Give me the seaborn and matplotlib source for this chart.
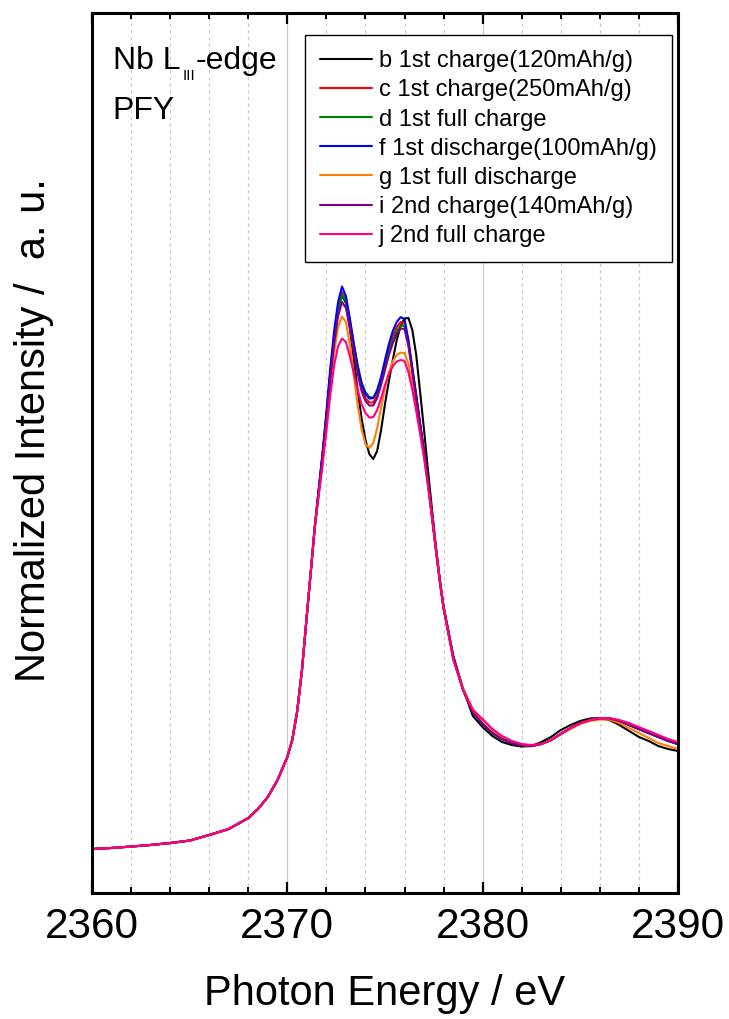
import pandas as pd
import numpy as np
import seaborn as sns
import matplotlib.pyplot as plt
from matplotlib.ticker import MultipleLocator

# Nb L3-edge PFY spectra
energy_pre = [2360, 2361, 2362, 2363, 2364, 2365, 2366, 2367, 2368, 2368.5, 2369,
              2369.5, 2370, 2370.25, 2370.5, 2370.75, 2371, 2371.2, 2371.4]
edge_pre = [0.000, 0.008, 0.019, 0.031, 0.046, 0.065, 0.108, 0.154, 0.238, 0.308, 0.400,
            0.531, 0.708, 0.838, 1.054, 1.377, 1.800, 2.131, 2.469]

energy_peak = [2371.6, 2371.8, 2372.0, 2372.2, 2372.4, 2372.6, 2372.8, 2373.0, 2373.2,
               2373.4, 2373.6, 2373.8, 2374.0, 2374.2, 2374.4, 2374.6, 2374.8, 2375.0,
               2375.2, 2375.4, 2375.6, 2375.8, 2376.0, 2376.2, 2376.4, 2376.6, 2376.8,
               2377.0, 2377.2, 2377.4, 2377.6, 2377.8, 2378.0]

peak_b = [2.746, 3.023, 3.323, 3.646, 3.938, 4.154, 4.258, 4.200, 4.008, 3.777, 3.531,
          3.315, 3.146, 3.038, 3.000, 3.062, 3.223, 3.423, 3.600, 3.762, 3.915, 4.023,
          4.081, 4.085, 3.992, 3.800, 3.515, 3.223, 2.915, 2.623, 2.338, 2.085, 1.869]
peak_c = [2.746, 3.023, 3.331, 3.662, 3.946, 4.162, 4.285, 4.223, 4.054, 3.862, 3.685,
          3.546, 3.469, 3.435, 3.435, 3.492, 3.600, 3.723, 3.846, 3.946, 4.015, 4.054,
          4.046, 3.900, 3.692, 3.485, 3.269, 3.054, 2.823, 2.569, 2.315, 2.069, 1.854]
peak_d = [2.746, 3.023, 3.331, 3.654, 3.938, 4.146, 4.265, 4.215, 4.062, 3.885, 3.723,
          3.592, 3.515, 3.477, 3.473, 3.515, 3.608, 3.715, 3.823, 3.915, 3.985, 4.027,
          4.023, 3.885, 3.685, 3.477, 3.262, 3.054, 2.823, 2.569, 2.315, 2.069, 1.854]
peak_f = [2.762, 3.046, 3.362, 3.700, 3.992, 4.208, 4.327, 4.254, 4.085, 3.892, 3.715,
          3.577, 3.500, 3.465, 3.469, 3.531, 3.631, 3.762, 3.885, 3.985, 4.054, 4.092,
          4.077, 3.915, 3.700, 3.492, 3.269, 3.054, 2.823, 2.569, 2.315, 2.069, 1.854]
peak_g = [2.723, 2.977, 3.262, 3.562, 3.823, 4.015, 4.096, 4.054, 3.885, 3.646, 3.415,
          3.231, 3.115, 3.085, 3.123, 3.238, 3.392, 3.546, 3.669, 3.754, 3.800, 3.819,
          3.815, 3.731, 3.577, 3.400, 3.215, 3.023, 2.808, 2.569, 2.315, 2.069, 1.854]
peak_i = [2.731, 3.000, 3.300, 3.615, 3.892, 4.100, 4.208, 4.162, 4.008, 3.831, 3.662,
          3.523, 3.446, 3.412, 3.412, 3.469, 3.569, 3.685, 3.800, 3.892, 3.962, 4.004,
          4.000, 3.869, 3.669, 3.462, 3.254, 3.054, 2.823, 2.569, 2.315, 2.069, 1.854]
peak_j = [2.708, 2.946, 3.215, 3.492, 3.723, 3.869, 3.927, 3.900, 3.792, 3.662, 3.531,
          3.423, 3.354, 3.319, 3.323, 3.377, 3.469, 3.569, 3.654, 3.715, 3.750, 3.762,
          3.754, 3.669, 3.531, 3.369, 3.192, 3.008, 2.792, 2.554, 2.315, 2.069, 1.854]

energy_tail = [2378.5, 2379, 2379.5, 2380, 2380.5, 2381, 2381.5, 2382, 2382.5, 2383,
               2383.5, 2384, 2384.5, 2385, 2385.5, 2386, 2386.5, 2387, 2387.5, 2388,
               2388.5, 2389, 2389.5, 2390]
tail_common = [1.469, 1.223, 1.054, 0.962, 0.892, 0.846, 0.815, 0.800, 0.792, 0.808,
               0.838, 0.885, 0.931, 0.969, 0.992, 1.004, 1.004, 0.985, 0.954, 0.923,
               0.892, 0.862, 0.831, 0.808]
tail_b = [1.485, 1.231, 1.023, 0.938, 0.869, 0.823, 0.800, 0.788, 0.792, 0.823,
          0.862, 0.915, 0.954, 0.985, 1.004, 1.008, 0.992, 0.954, 0.908, 0.862,
          0.831, 0.792, 0.769, 0.754]
tail_g = [1.454, 1.238, 1.077, 0.992, 0.915, 0.862, 0.823, 0.800, 0.792, 0.808,
          0.838, 0.885, 0.923, 0.962, 0.985, 0.996, 0.996, 0.969, 0.931, 0.892,
          0.854, 0.815, 0.792, 0.769]
tail_j = [1.454, 1.223, 1.069, 1.000, 0.923, 0.869, 0.831, 0.808, 0.800, 0.808,
          0.838, 0.885, 0.931, 0.969, 0.992, 1.008, 1.008, 0.992, 0.969, 0.938,
          0.908, 0.877, 0.846, 0.823]

labels = ["b 1st charge(120mAh/g)", "c 1st charge(250mAh/g)", "d 1st full charge",
          "f 1st discharge(100mAh/g)", "g 1st full discharge", "i 2nd charge(140mAh/g)",
          "j 2nd full charge"]
colors = ["#000000", "#ff0000", "#008000", "#0000ff", "#ff8000", "#800080", "#ff0080"]
peaks = [peak_b, peak_c, peak_d, peak_f, peak_g, peak_i, peak_j]
tails = [tail_b, tail_common, tail_common, tail_common, tail_g, tail_common, tail_j]

# long-form table for seaborn
energy = energy_pre + energy_peak + energy_tail
frames = []
for lab, pk, tl in zip(labels, peaks, tails):
    frames.append(pd.DataFrame({"E": energy, "I": edge_pre + pk + tl, "sample": lab}))
df = pd.concat(frames, ignore_index=True)

sns.set_style("ticks")
plt.rcParams['font.family'] = ['Liberation Sans', 'DejaVu Sans']
plt.rcParams['text.color'] = 'black'
plt.rcParams['axes.labelcolor'] = 'black'
plt.rcParams['xtick.color'] = 'black'

fig = plt.figure(figsize=(7.29, 10.19), dpi=100)
ax = fig.add_axes([0.1262, 0.1237, 0.8038, 0.8635])

sns.lineplot(data=df, x="E", y="I", hue="sample", hue_order=labels,
             palette=colors, linewidth=1.5, sort=False, estimator=None, ax=ax)

ax.set_xlim(2360, 2390)
ax.set_ylim(-0.338, 6.431)
ax.xaxis.set_major_locator(MultipleLocator(10))
ax.xaxis.set_minor_locator(MultipleLocator(2))
ax.grid(axis="x", which="major", color="#c8c8c8", linewidth=0.8, linestyle="-")
ax.grid(axis="x", which="minor", color="#c8c8c8", linewidth=0.8, linestyle=(0, (3, 3)))
ax.set_axisbelow(True)
ax.set_yticks([])
ax.tick_params(axis="x", which="major", direction="in", top=True, length=8, width=1.6,
               labelsize=30.5, pad=10)
ax.tick_params(axis="x", which="minor", direction="in", top=True, length=4, width=1.4)
for s in ax.spines.values():
    s.set_linewidth(2.2)
    s.set_color("black")
    s.set_visible(True)

ax.set_xlabel("Photon Energy / eV", fontsize=30)
ax.xaxis.set_label_coords(0.5, -0.092)
ax.set_ylabel("Normalized Intensity /  a. u.", fontsize=30)
ax.yaxis.set_label_coords(-0.065, 0.526)

# "Nb L_III-edge" built from three pieces so the subscript stays small
t1 = ax.text(0.0353, 0.9364, "Nb L", transform=ax.transAxes, fontsize=23,
             va="baseline", ha="left")
t2 = ax.annotate("III", xy=(1, 0), xycoords=t1, xytext=(1.5, -3),
                 textcoords="offset points", fontsize=11, va="baseline", ha="left")
ax.annotate("-edge", xy=(1, 0), xycoords=t2, xytext=(0.5, 10.2),
            textcoords="offset points", fontsize=23, va="baseline", ha="left")
ax.text(0.0353, 0.8795, "PFY", transform=ax.transAxes, fontsize=23,
        va="baseline", ha="left")

leg = ax.legend(loc="upper right", bbox_to_anchor=(0.99, 0.975), fontsize=17,
                frameon=True, fancybox=False, framealpha=1, edgecolor="black",
                handlelength=2.2, handletextpad=0.3, labelspacing=0.3,
                borderpad=0.65, borderaxespad=0)
leg.get_frame().set_linewidth(1.0)
for ln in leg.get_lines():
    ln.set_linewidth(1.5)

fig.savefig("out.png", dpi=100)
